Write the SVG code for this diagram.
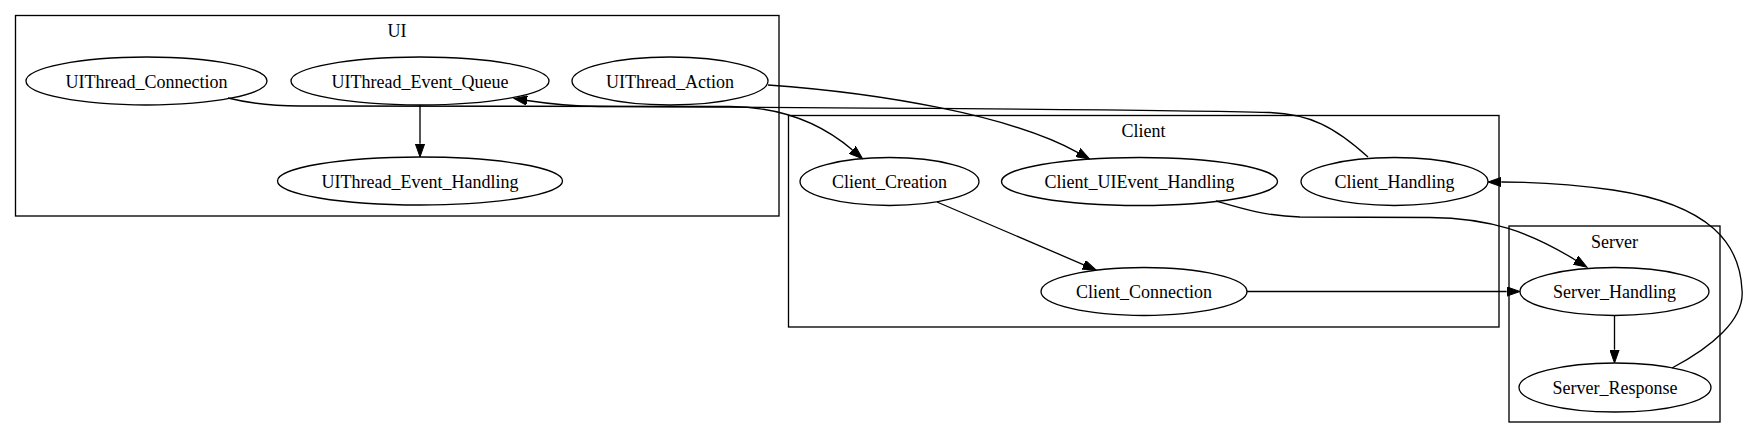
<svg xmlns="http://www.w3.org/2000/svg" width="1746" height="439" viewBox="0 0 1746 439">
<style>
.cl{fill:none;stroke:#000;stroke-width:1.33}
.nd ellipse{fill:none;stroke:#000;stroke-width:1.33}
text{font-family:"Liberation Serif","Times New Roman",serif;font-size:18px;fill:#000;text-anchor:middle}
.ed path{fill:none;stroke:#000;stroke-width:1.33;marker-end:url(#ah)}
</style>
<defs>
<marker id="ah" markerUnits="userSpaceOnUse" markerWidth="14" markerHeight="10" viewBox="0 0 14 10" refX="0" refY="5" orient="auto">
<path d="M0,0.3 L13.3,5 L0,9.7 z" fill="#000" stroke="#000" stroke-width="1"/>
</marker>
</defs>
<rect width="1746" height="439" fill="#fff"/>
<g id="cluster_UI">
<rect class="cl" x="15.5" y="15.5" width="763.5" height="200.5"/>
<text x="397" y="37">UI</text>
</g>
<g id="cluster_Client">
<rect class="cl" x="788.5" y="115.5" width="710.5" height="211.5"/>
<text x="1143.5" y="137">Client</text>
</g>
<g id="cluster_Server">
<rect class="cl" x="1509" y="226" width="211" height="196"/>
<text x="1614.5" y="247.5">Server</text>
</g>
<g id="UIThread_Connection" class="nd">
<ellipse cx="146.5" cy="81" rx="120.5" ry="24"/>
<text x="146.5" y="87.5">UIThread_Connection</text>
</g>
<g id="UIThread_Event_Queue" class="nd">
<ellipse cx="420" cy="81" rx="129" ry="24"/>
<text x="420" y="87.5">UIThread_Event_Queue</text>
</g>
<g id="UIThread_Action" class="nd">
<ellipse cx="670" cy="81" rx="98" ry="24"/>
<text x="670" y="87.5">UIThread_Action</text>
</g>
<g id="UIThread_Event_Handling" class="nd">
<ellipse cx="420" cy="181" rx="142.5" ry="24"/>
<text x="420" y="187.5">UIThread_Event_Handling</text>
</g>
<g id="Client_Creation" class="nd">
<ellipse cx="889.5" cy="181.5" rx="89.5" ry="24"/>
<text x="889.5" y="188">Client_Creation</text>
</g>
<g id="Client_UIEvent_Handling" class="nd">
<ellipse cx="1139.5" cy="181.5" rx="138" ry="24"/>
<text x="1139.5" y="188">Client_UIEvent_Handling</text>
</g>
<g id="Client_Handling" class="nd">
<ellipse cx="1394.5" cy="181.5" rx="93.5" ry="24"/>
<text x="1394.5" y="188">Client_Handling</text>
</g>
<g id="Client_Connection" class="nd">
<ellipse cx="1144" cy="291.5" rx="103" ry="24"/>
<text x="1144" y="298">Client_Connection</text>
</g>
<g id="Server_Handling" class="nd">
<ellipse cx="1614.5" cy="291.5" rx="94.5" ry="24"/>
<text x="1614.5" y="298">Server_Handling</text>
</g>
<g id="Server_Response" class="nd">
<ellipse cx="1615" cy="387.5" rx="96" ry="24.5"/>
<text x="1615" y="394">Server_Response</text>
</g>
<g id="edges" class="ed">
<path d="M228,98 C248,103 268,106 300,106 L730,106.5 C790,107 828,129 852.5,150"/>
<path d="M1368,157 C1335,127 1310,114 1270,112.5 C1150,109 700,107 600,106.5 C570,106 550,104 527,100.5"/>
<path d="M768,85 C880,93 1010,115 1078,152.6"/>
<path d="M420,105 L420,143.7"/>
<path d="M937,202 L1083.8,264.8"/>
<path d="M1247,291.5 L1506.7,291.5"/>
<path d="M1216,201 C1240,208 1265,216 1300,217 L1430,217.5 C1490,218 1530,232 1575.7,260.2"/>
<path d="M1614.5,315.5 L1614.5,349.7"/>
<path d="M1672,368 C1710,348 1745,320 1742,290 C1740,245 1712,205 1613,190 C1570,184 1530,182 1501.3,182"/>
</g>
</svg>
